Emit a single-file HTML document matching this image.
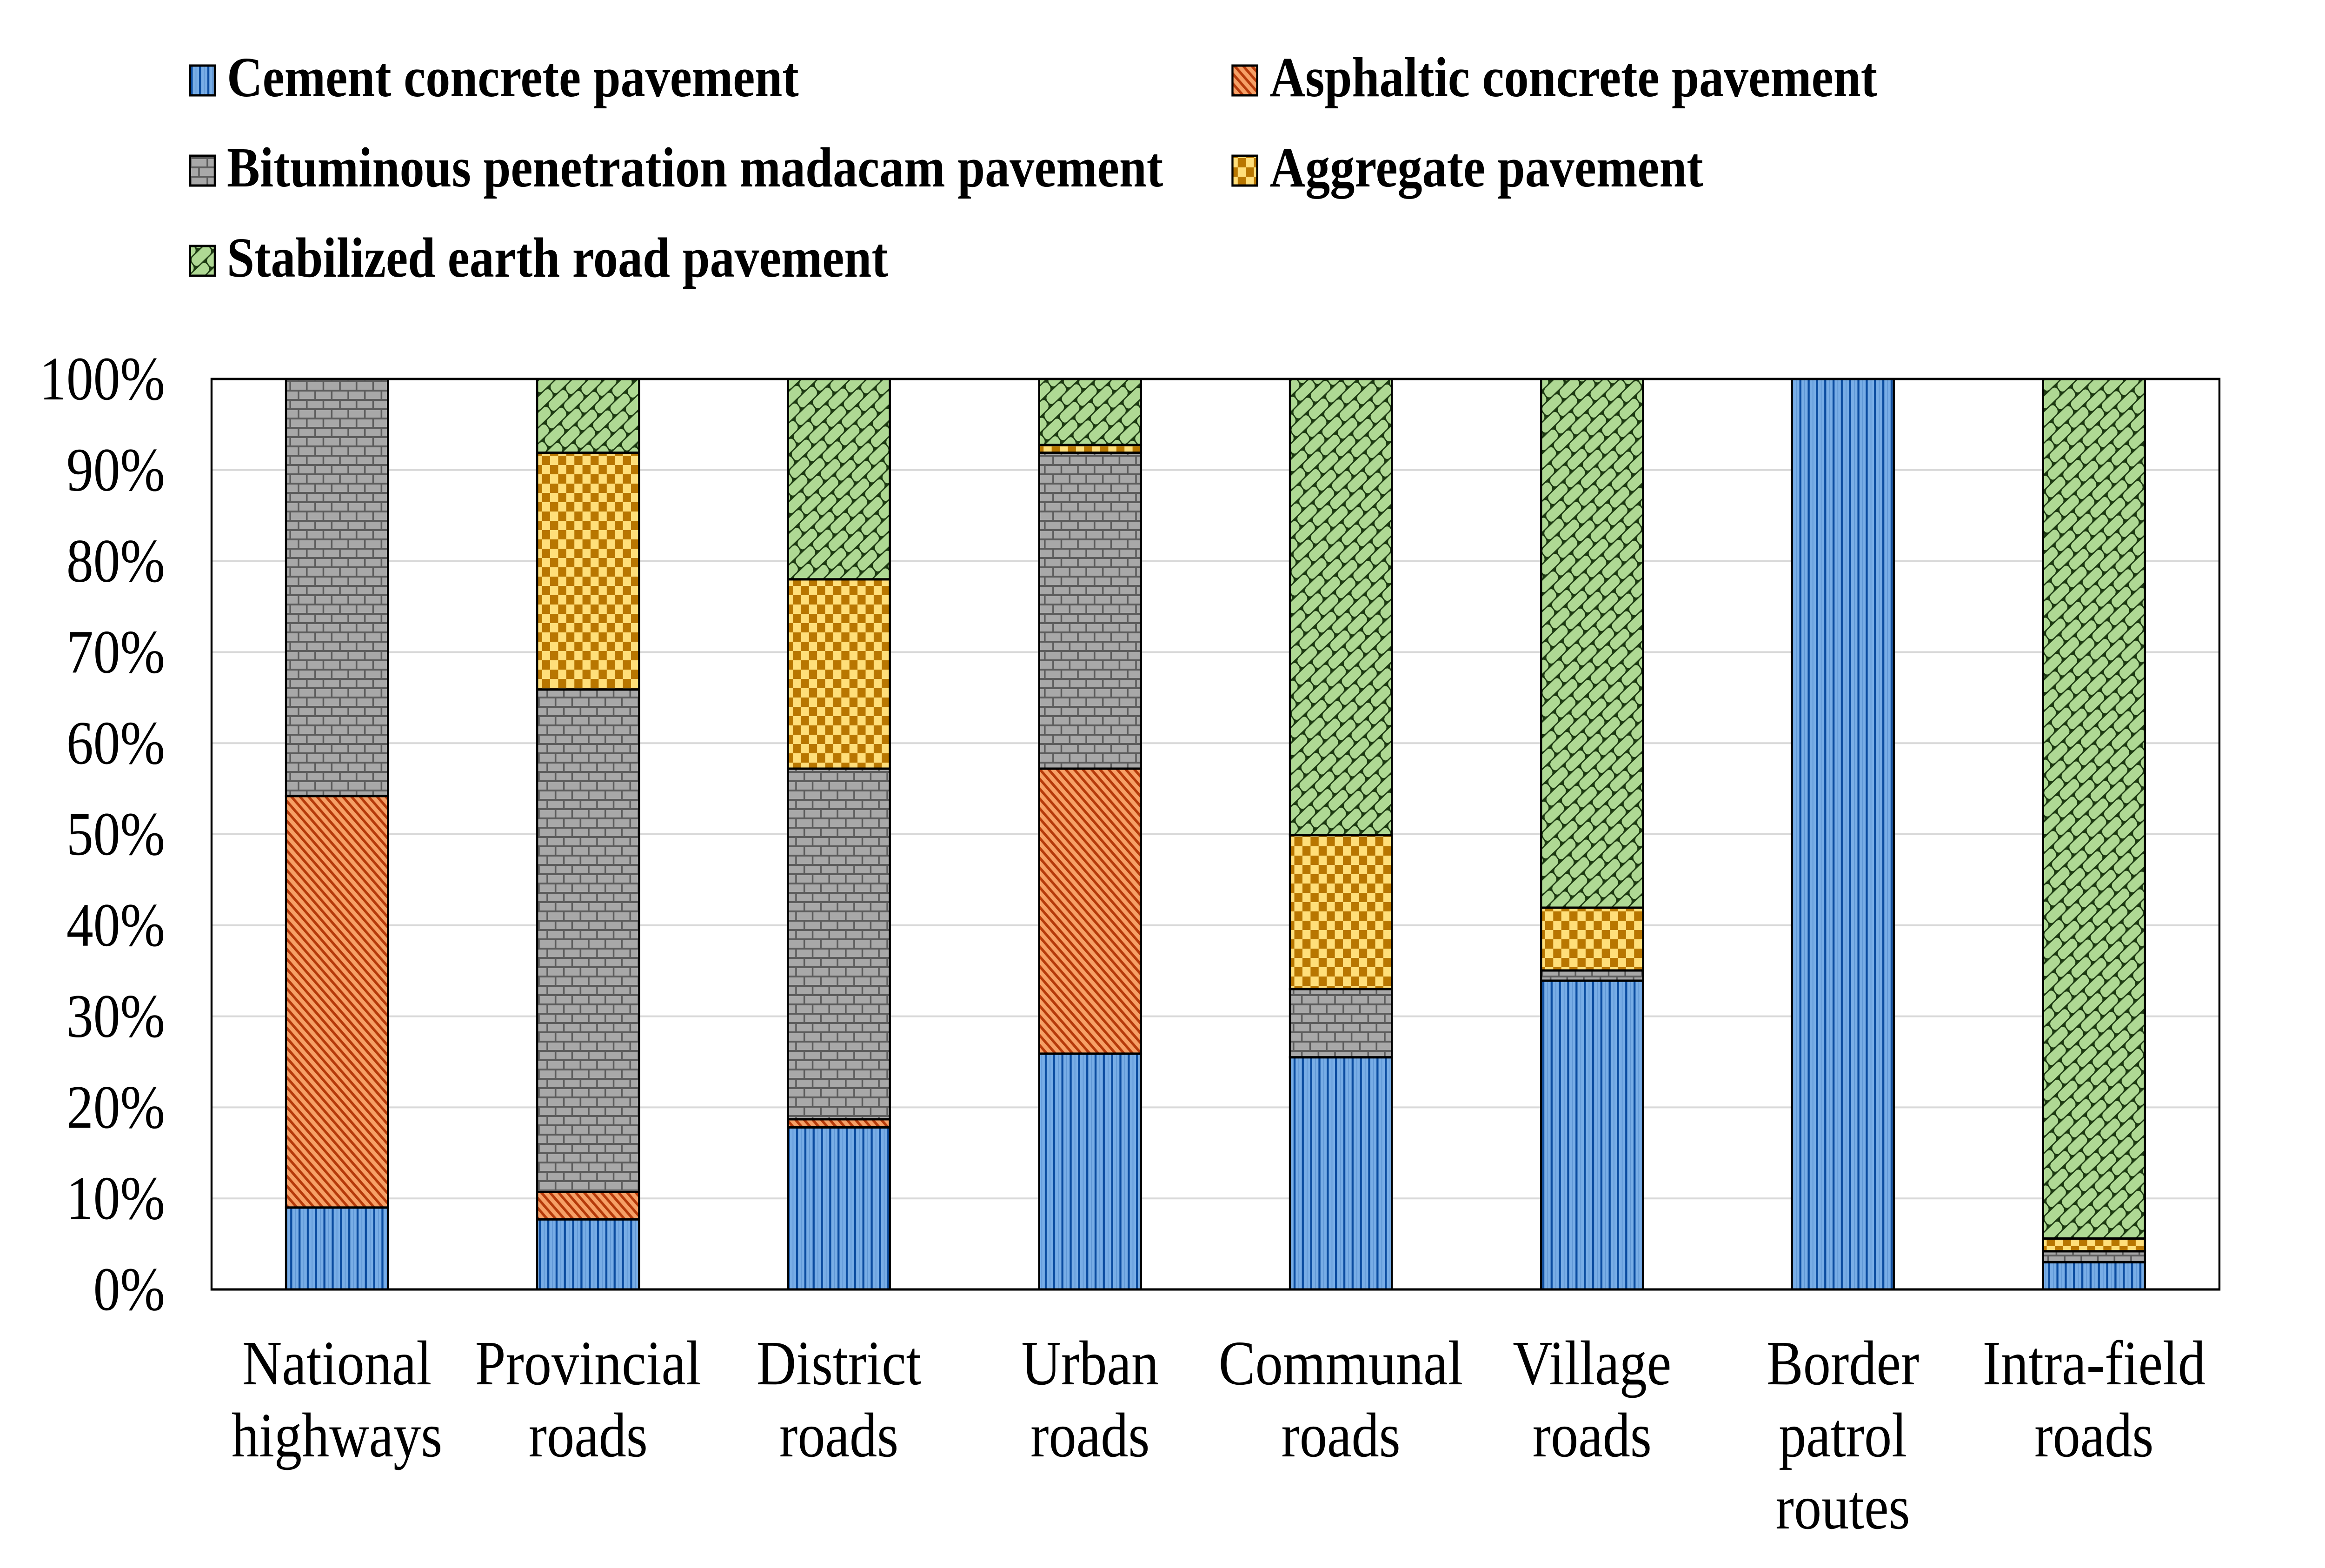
<!DOCTYPE html>
<html>
<head>
<meta charset="utf-8">
<style>
  html, body { margin: 0; padding: 0; background: #ffffff; width: 100%; height: 100%; overflow: hidden; }
  svg { display: block; width: 100vw; height: 100vh; }
  .lg { font-family: "Liberation Serif", "Times New Roman", serif; font-weight: bold; font-size: 122px; fill: #000; }
  .yt { font-family: "Liberation Serif", "Times New Roman", serif; font-size: 133px; fill: #000; }
  .xt { font-family: "Liberation Serif", "Times New Roman", serif; font-size: 136px; fill: #000; }
</style>
</head>
<body>
<svg viewBox="0 0 5748 3372" preserveAspectRatio="none" xmlns="http://www.w3.org/2000/svg">
  <defs>
    <pattern id="pc" patternUnits="userSpaceOnUse" width="20.5" height="20">
      <rect width="20.5" height="20" fill="#78ade6"/>
      <rect x="0" y="0" width="5" height="20" fill="#0b4ca0"/>
      <rect x="12" y="0" width="2" height="20" fill="#5f97d6"/>
    </pattern>
    <pattern id="pa" patternUnits="userSpaceOnUse" width="15" height="15" patternTransform="rotate(-45)">
      <rect width="15" height="15" fill="#f6a066"/>
      <rect x="0" y="0" width="6" height="15" fill="#b63a0a"/>
    </pattern>
    <pattern id="pb" patternUnits="userSpaceOnUse" width="41" height="40">
      <rect width="41" height="40" fill="#5c5c5c"/>
      <rect x="2" y="2" width="37" height="16" fill="#a8a8a8"/>
      <rect x="-18.5" y="22" width="37" height="16" fill="#a8a8a8"/>
      <rect x="22.5" y="22" width="37" height="16" fill="#a8a8a8"/>
    </pattern>
    <pattern id="pg" patternUnits="userSpaceOnUse" width="40" height="40">
      <rect width="40" height="40" fill="#ffdf7a"/>
      <rect x="0" y="0" width="20" height="20" fill="#b87600"/>
      <rect x="20" y="20" width="20" height="20" fill="#b87600"/>
    </pattern>
    <pattern id="pe" patternUnits="userSpaceOnUse" width="56" height="52" patternTransform="rotate(-40)">
      <rect width="56" height="52" fill="#1d3a12"/>
      <rect x="1.5" y="1.5" width="53" height="23" rx="9" fill="#afd994"/>
      <rect x="-26.5" y="27.5" width="53" height="23" rx="9" fill="#afd994"/>
      <rect x="29.5" y="27.5" width="53" height="23" rx="9" fill="#afd994"/>
    </pattern>
  </defs>

  <rect width="5748" height="3372" fill="#ffffff"/>

  <!-- Legend -->
  <rect x="470" y="141" width="61" height="64" fill="url(#pc)" stroke="#000" stroke-width="5"/>
  <text class="lg" x="561" y="207">Cement concrete pavement</text>
  <rect x="3047" y="141" width="61" height="64" fill="url(#pa)" stroke="#000" stroke-width="5"/>
  <text class="lg" x="3139" y="207">Asphaltic concrete pavement</text>

  <rect x="470" y="335" width="61" height="64" fill="url(#pb)" stroke="#000" stroke-width="5"/>
  <text class="lg" x="561" y="401">Bituminous penetration madacam pavement</text>
  <rect x="3047" y="335" width="61" height="64" fill="url(#pg)" stroke="#000" stroke-width="5"/>
  <text class="lg" x="3139" y="401">Aggregate pavement</text>

  <rect x="470" y="529" width="61" height="64" fill="url(#pe)" stroke="#000" stroke-width="5"/>
  <text class="lg" x="561" y="595">Stabilized earth road pavement</text>

  <!-- Gridlines -->
  <g stroke="#d9d9d9" stroke-width="4">
    <line x1="523" y1="2577.2" x2="5487" y2="2577.2"/>
    <line x1="523" y1="2381.4" x2="5487" y2="2381.4"/>
    <line x1="523" y1="2185.6" x2="5487" y2="2185.6"/>
    <line x1="523" y1="1989.8" x2="5487" y2="1989.8"/>
    <line x1="523" y1="1794" x2="5487" y2="1794"/>
    <line x1="523" y1="1598.2" x2="5487" y2="1598.2"/>
    <line x1="523" y1="1402.4" x2="5487" y2="1402.4"/>
    <line x1="523" y1="1206.6" x2="5487" y2="1206.6"/>
    <line x1="523" y1="1010.8" x2="5487" y2="1010.8"/>
  </g>

  <!-- Bars -->
  <g stroke="#000" stroke-width="5">
    <rect x="707" y="2596.8" width="252" height="176.2" fill="url(#pc)"/>
    <rect x="707" y="1711.8" width="252" height="885.0" fill="url(#pa)"/>
    <rect x="707" y="815" width="252" height="896.8" fill="url(#pb)"/>

    <rect x="1328" y="2622.2" width="252" height="150.8" fill="url(#pc)"/>
    <rect x="1328" y="2563.5" width="252" height="58.7" fill="url(#pa)"/>
    <rect x="1328" y="1482.7" width="252" height="1080.8" fill="url(#pb)"/>
    <rect x="1328" y="973.6" width="252" height="509.1" fill="url(#pg)"/>
    <rect x="1328" y="815" width="252" height="158.6" fill="url(#pe)"/>

    <rect x="1948" y="2424.5" width="252" height="348.5" fill="url(#pc)"/>
    <rect x="1948" y="2406.9" width="252" height="17.6" fill="url(#pa)"/>
    <rect x="1948" y="1653.0" width="252" height="753.9" fill="url(#pb)"/>
    <rect x="1948" y="1245.8" width="252" height="407.2" fill="url(#pg)"/>
    <rect x="1948" y="815" width="252" height="430.8" fill="url(#pe)"/>

    <rect x="2569" y="2265.9" width="252" height="507.1" fill="url(#pc)"/>
    <rect x="2569" y="1653.0" width="252" height="612.9" fill="url(#pa)"/>
    <rect x="2569" y="973.6" width="252" height="679.4" fill="url(#pb)"/>
    <rect x="2569" y="957.0" width="252" height="16.6" fill="url(#pg)"/>
    <rect x="2569" y="815" width="252" height="142" fill="url(#pe)"/>

    <rect x="3189" y="2273.7" width="252" height="499.3" fill="url(#pc)"/>
    <rect x="3189" y="2126.9" width="252" height="146.8" fill="url(#pb)"/>
    <rect x="3189" y="1796.0" width="252" height="330.9" fill="url(#pg)"/>
    <rect x="3189" y="815" width="252" height="981" fill="url(#pe)"/>

    <rect x="3810" y="2109" width="252" height="664" fill="url(#pc)"/>
    <rect x="3810" y="2087" width="252" height="22" fill="url(#pb)"/>
    <rect x="3810" y="1952" width="252" height="135" fill="url(#pg)"/>
    <rect x="3810" y="815" width="252" height="1137" fill="url(#pe)"/>

    <rect x="4430" y="815" width="252" height="1958" fill="url(#pc)"/>

    <rect x="5051" y="2714.3" width="252" height="58.7" fill="url(#pc)"/>
    <rect x="5051" y="2690.8" width="252" height="23.5" fill="url(#pb)"/>
    <rect x="5051" y="2663.4" width="252" height="27.4" fill="url(#pg)"/>
    <rect x="5051" y="815" width="252" height="1848.4" fill="url(#pe)"/>
  </g>

  <!-- Plot frame -->
  <rect x="523" y="815" width="4964" height="1958" fill="none" stroke="#000" stroke-width="5"/>

  <!-- Y tick labels -->
  <g class="yt" text-anchor="end">
    <text x="408" y="859">100%</text>
    <text x="408" y="1054.8">90%</text>
    <text x="408" y="1250.6">80%</text>
    <text x="408" y="1446.4">70%</text>
    <text x="408" y="1642.2">60%</text>
    <text x="408" y="1838">50%</text>
    <text x="408" y="2033.8">40%</text>
    <text x="408" y="2229.6">30%</text>
    <text x="408" y="2425.4">20%</text>
    <text x="408" y="2621.2">10%</text>
    <text x="408" y="2817">0%</text>
  </g>

  <!-- X category labels -->
  <g class="xt" text-anchor="middle">
    <text x="833" y="2977">National</text>
    <text x="833" y="3132">highways</text>
    <text x="1454" y="2977">Provincial</text>
    <text x="1454" y="3132">roads</text>
    <text x="2074" y="2977">District</text>
    <text x="2074" y="3132">roads</text>
    <text x="2695" y="2977">Urban</text>
    <text x="2695" y="3132">roads</text>
    <text x="3315" y="2977">Communal</text>
    <text x="3315" y="3132">roads</text>
    <text x="3936" y="2977">Village</text>
    <text x="3936" y="3132">roads</text>
    <text x="4556" y="2977">Border</text>
    <text x="4556" y="3132">patrol</text>
    <text x="4556" y="3287">routes</text>
    <text x="5177" y="2977">Intra-field</text>
    <text x="5177" y="3132">roads</text>
  </g>
</svg>
</body>
</html>
